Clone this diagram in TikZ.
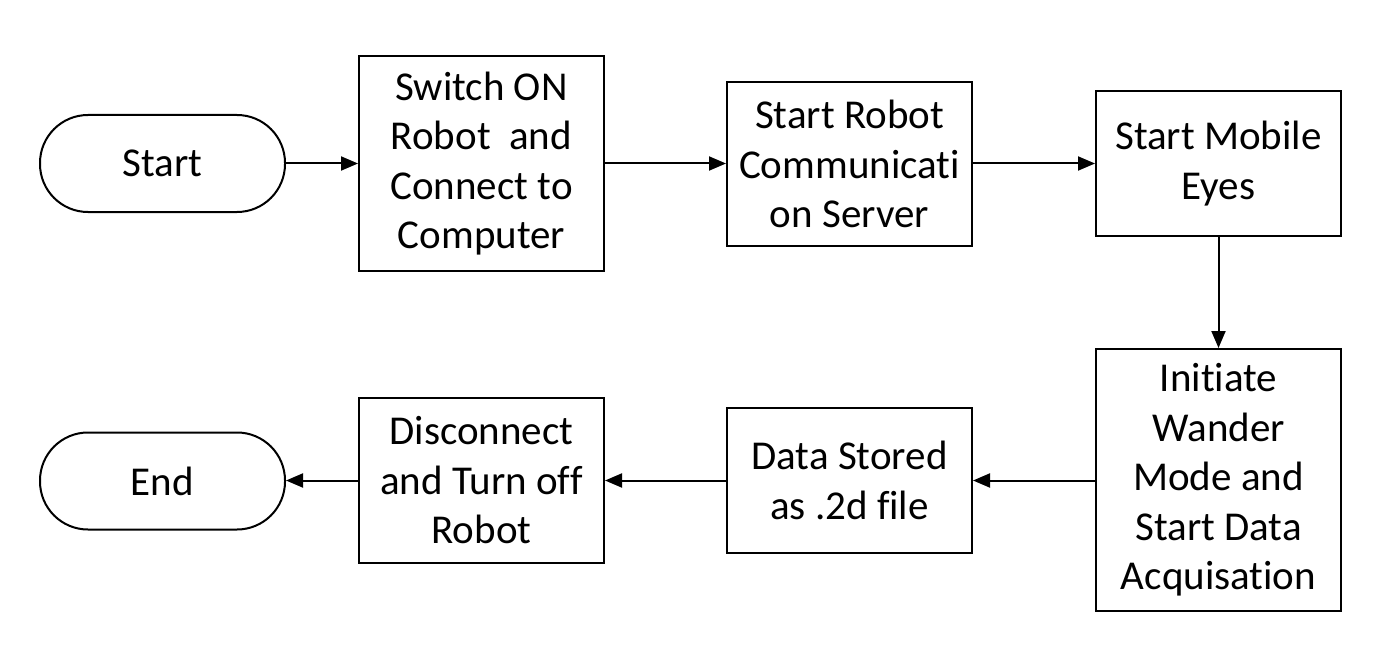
\documentclass[tikz,border=0pt]{standalone}
\usepackage{fontspec}
\setmainfont{Carlito}[Ligatures={NoCommon}]
\usetikzlibrary{arrows.meta}
\begin{document}
\begin{tikzpicture}[x=1pt,y=-1pt,
  every node/.style={font=\fontsize{41}{49.5}\selectfont, align=center, inner sep=0pt},
  stepbox/.style={draw, line width=2pt, minimum width=245pt},
  term/.style={draw, line width=2pt, minimum width=245pt, minimum height=97pt, rounded corners=48pt},
  conn/.style={line width=2pt, -{Triangle[length=17pt,width=14pt]}}]
\useasboundingbox (0,0) rectangle (1385,666);
\node[term] (start) at (162.5,163.5) {Start};
\node[stepbox, minimum height=214pt] (b1) at (481.5,163.5) {Switch ON\\Robot~ and\\Connect to\\Computer};
\node[stepbox, minimum height=164pt] (b2) at (849.5,164) {Start Robot\\Communicati\\on Server};
\node[stepbox, minimum height=145pt] (b3) at (1218.5,163.5) {Start Mobile\\Eyes};
\node[stepbox, minimum height=262pt] (b4) at (1218.5,480) {Initiate\\Wander\\Mode and\\Start Data\\Acquisation};
\node[stepbox, minimum height=145pt] (b5) at (849.5,480.5) {Data Stored\\as .2d file};
\node[stepbox, minimum height=165pt] (b6) at (481.5,480.5) {Disconnect\\and Turn off\\Robot};
\node[term] (end) at (162.5,481) {End};
\draw[conn] (start) -- (b1);
\draw[conn] (b1) -- (b1 -| b2.west);
\draw[conn] (b2.east |- b3) -- (b3);
\draw[conn] (b3) -- (b4);
\draw[conn] (b4.west |- b5) -- (b5);
\draw[conn] (b5) -- (b6);
\draw[conn] (b6) -- (b6 -| end.east);
\end{tikzpicture}
\end{document}
